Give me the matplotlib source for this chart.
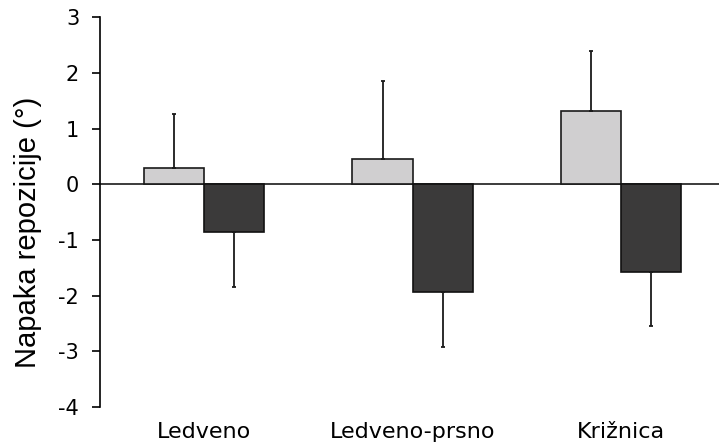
import matplotlib.pyplot as plt
import numpy as np

plt.rcParams['figure.dpi'] = 100
plt.rcParams['font.family'] = 'DejaVu Sans'
plt.rcParams['axes.unicode_minus'] = False

categories = ['Ledveno', 'Ledveno-prsno', 'Križnica']
light_vals = [0.29, 0.46, 1.32]
light_err = [0.98, 1.39, 1.07]
dark_vals = [-0.86, -1.93, -1.57]
dark_err = [0.99, 1.00, 0.98]

fig = plt.figure(figsize=(7.19, 4.46))
ax = fig.add_axes([100 / 719, (446 - 407) / 446, 619 / 719, (407 - 17.3) / 446])

x = np.arange(len(categories))
w = 0.289

ax.bar(x - w / 2, light_vals, w, color='#d0cfd0', edgecolor='#1a1a1a', linewidth=1.2,
       yerr=[np.zeros(3), light_err], error_kw=dict(ecolor='#1a1a1a', elinewidth=1.3, capsize=1.5, capthick=1.3),
       zorder=3)
ax.bar(x + w / 2, dark_vals, w, color='#3b3a3a', edgecolor='#111111', linewidth=1.2,
       yerr=[dark_err, np.zeros(3)], error_kw=dict(ecolor='#1a1a1a', elinewidth=1.3, capsize=1.5, capthick=1.3),
       zorder=3)

ax.axhline(0, color='#1a1a1a', linewidth=1.2, zorder=2)

ax.set_ylim(-4, 3)
ax.set_xlim(-0.5, 2.469)
ax.set_yticks(range(-4, 4))
ax.set_xticks(x)
ax.set_xticklabels(categories, fontsize=16)
ax.tick_params(axis='x', length=0, pad=11)
ax.tick_params(axis='y', labelsize=15, length=6, width=1.2, direction='out', pad=9)
for s in ['top', 'right', 'bottom']:
    ax.spines[s].set_visible(False)
ax.spines['left'].set_linewidth(1.2)
ax.set_ylabel('Napaka repozicije (°)', fontsize=21, family='Liberation Sans')
ax.yaxis.set_label_coords(-0.094, 0.447)

plt.savefig('out.png', dpi=100)
